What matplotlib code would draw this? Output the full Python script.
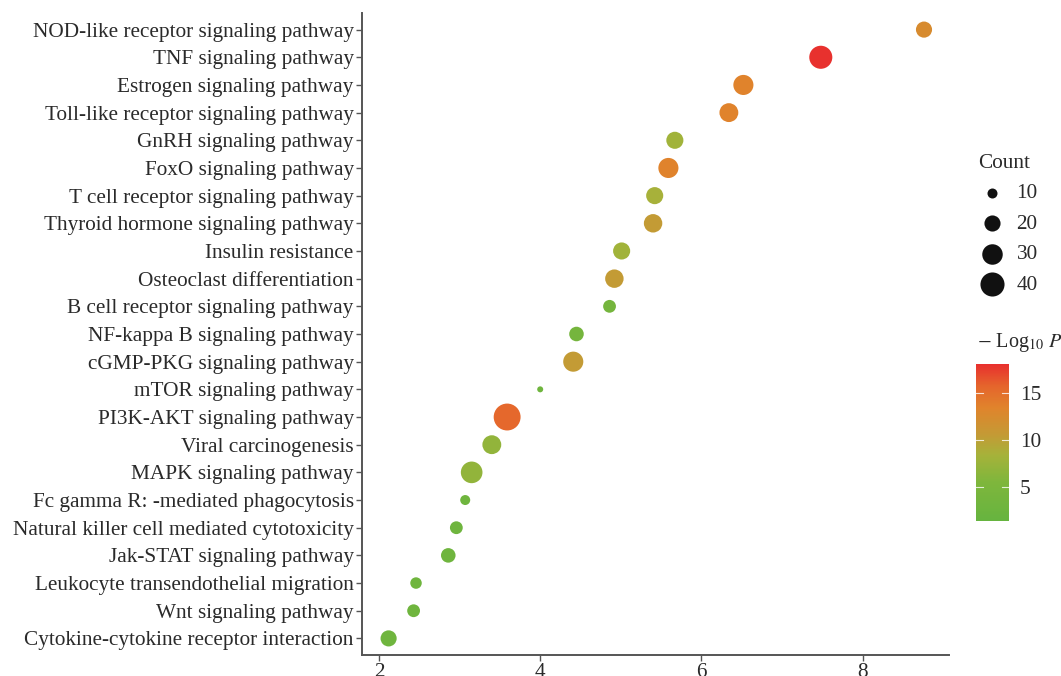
import matplotlib
matplotlib.use("Agg")
import matplotlib.pyplot as plt
import numpy as np
from matplotlib.colors import LinearSegmentedColormap, Normalize

plt.rcParams['font.family'] = ['Liberation Serif', 'DejaVu Serif']
plt.rcParams['mathtext.fontset'] = 'stix'

pathways = [
    "NOD-like receptor signaling pathway",
    "TNF signaling pathway",
    "Estrogen signaling pathway",
    "Toll-like receptor signaling pathway",
    "GnRH signaling pathway",
    "FoxO signaling pathway",
    "T cell receptor signaling pathway",
    "Thyroid hormone signaling pathway",
    "Insulin resistance",
    "Osteoclast differentiation",
    "B cell receptor signaling pathway",
    "NF-kappa B signaling pathway",
    "cGMP-PKG signaling pathway",
    "mTOR signaling pathway",
    "PI3K-AKT signaling pathway",
    "Viral carcinogenesis",
    "MAPK signaling pathway",
    "Fc gamma R: -mediated phagocytosis",
    "Natural killer cell mediated cytotoxicity",
    "Jak-STAT signaling pathway",
    "Leukocyte transendothelial migration",
    "Wnt signaling pathway",
    "Cytokine-cytokine receptor interaction",
]
enrichment = [8.76, 7.48, 6.52, 6.34, 5.67, 5.59, 5.42, 5.40, 5.01, 4.92, 4.86, 4.45,
              4.41, 4.00, 3.59, 3.40, 3.15, 3.07, 2.96, 2.86, 2.46, 2.43, 2.12]
counts = [20, 37, 29, 26, 22, 29, 22, 25, 22, 25, 14, 17, 29, 6, 49, 26, 33, 10, 14, 17, 12, 14, 20]
neglogp = [12.5, 18.0, 13.5, 13.5, 8.0, 13.5, 8.5, 10.5, 8.0, 10.5, 4.0, 4.0,
           10.5, 3.0, 15.5, 7.0, 7.0, 3.0, 3.0, 3.0, 3.0, 3.0, 3.0]
size_breaks = [10, 20, 30, 40]
color_ticks = [5, 10, 15]

cmap = LinearSegmentedColormap.from_list(
    "gr", [(0.0, "#66b43f"), (0.25, "#7fb63c"), (0.42, "#a6b23a"),
           (0.55, "#c49a35"), (0.72, "#e0842c"), (0.86, "#e5652c"), (1.0, "#e8302e")])
norm = Normalize(vmin=1.4, vmax=18.1)

def msize(c):
    d2 = 16.0 * np.asarray(c, dtype=float) - 60.0  # px^2 diameter squared
    return 0.5184 * d2

FS = 15.3
TXT = "#2a2a2a"

fig = plt.figure(figsize=(10.61, 6.76), dpi=100)
ax = fig.add_axes([362/1061, 1-655/676, (949-362)/1061, (655-13)/676])
n = len(pathways)
ypos = np.arange(n)[::-1]
ax.scatter(enrichment, ypos, s=msize(counts), c=neglogp, cmap=cmap, norm=norm,
           linewidths=0, zorder=3)
ax.set_xlim(1.79, 9.07)
ax.set_ylim(-0.6, n - 1 + 0.6)
ax.set_yticks(ypos)
ax.set_yticklabels(pathways, fontsize=FS, color=TXT)
ax.set_xticks([2, 4, 6, 8])
ax.tick_params(axis='x', labelsize=FS, colors="#555555", length=4, width=1, pad=2, labelcolor=TXT)
ax.tick_params(axis='y', colors="#555555", length=4, width=1, pad=2, labelcolor=TXT)
for s in ['top', 'right']:
    ax.spines[s].set_visible(False)
for s in ['left', 'bottom']:
    ax.spines[s].set_color("#555555")
    ax.spines[s].set_linewidth(1.4)

# Count legend
handles = [ax.scatter([], [], s=msize(b), color="#111111", linewidths=0) for b in size_breaks]
leg = fig.legend(handles, [str(b) for b in size_breaks], title="Count", frameon=False,
                 loc="upper left", bbox_to_anchor=(0.914, 0.785), fontsize=FS,
                 title_fontsize=FS, labelspacing=0.5, handletextpad=0.5,
                 borderaxespad=0, handlelength=1.3)
leg._legend_box.align = "left"
for t in leg.get_texts():
    t.set_color(TXT)
leg.get_title().set_color(TXT)

# Colorbar
cax = fig.add_axes([976/1061, 1-521/676, 33/1061, 157/676])
sm = plt.cm.ScalarMappable(cmap=cmap, norm=norm)
cb = fig.colorbar(sm, cax=cax, ticks=color_ticks)
cb.outline.set_visible(False)
cax.tick_params(length=0, labelsize=FS, pad=8, labelcolor=TXT)
for t in color_ticks:
    cax.plot([0, 0.2], [t, t], color="white", lw=0.8, alpha=0.8, transform=cax.get_yaxis_transform())
    cax.plot([0.8, 1.0], [t, t], color="white", lw=0.8, alpha=0.8, transform=cax.get_yaxis_transform())
fig.text(977/1061, 1-343/676, r"$-$ Log$_{10}$ $P$", fontsize=14.5, va="center", ha="left", color=TXT)

fig.savefig("out.png", dpi=100)
